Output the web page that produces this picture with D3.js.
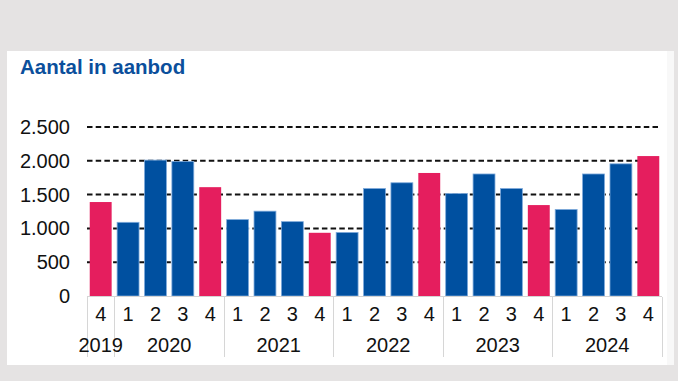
<!DOCTYPE html>
<html>
<head>
<meta charset="utf-8">
<script src="https://cdn.jsdelivr.net/npm/d3@7"></script>
<style>
  html, body { margin: 0; padding: 0; background: #e5e3e3; }
  svg { display: block; font-family: "Liberation Sans", Arial, Helvetica, sans-serif; }
</style>
</head>
<body>
<svg id="chart" width="678" height="381"></svg>
<script>
// ---- Data ----
const years    = ["2019", "2020", "2020", "2020", "2020", "2021", "2021", "2021", "2021",
                  "2022", "2022", "2022", "2022", "2023", "2023", "2023", "2023",
                  "2024", "2024", "2024", "2024"];
const quarters = ["4", "1", "2", "3", "4", "1", "2", "3", "4",
                  "1", "2", "3", "4", "1", "2", "3", "4",
                  "1", "2", "3", "4"];
const values   = [1390, 1090, 2010, 1990, 1610, 1130, 1255, 1100, 935,
                  940, 1590, 1675, 1820, 1515, 1805, 1590, 1345,
                  1280, 1805, 1955, 2070];
const yTicks   = [0, 500, 1000, 1500, 2000, 2500];
const yearLabels = ["2019", "2020", "2021", "2022", "2023", "2024"];
const title = "Aantal in aanbod";

// ---- Layout ----
const svg = d3.select("#chart");
const blue = "#0050a0", pink = "#e51e5e";
const fmt = d3.format(",");
const nl = v => fmt(v).replace(/,/g, ".");

// panel
svg.append("rect").attr("x", 7).attr("y", 51).attr("width", 667).attr("height", 314).attr("fill", "#f8f8f8");
svg.append("rect").attr("x", 7).attr("y", 51).attr("width", 660).attr("height", 314).attr("fill", "#ffffff");

svg.append("text").attr("x", 20).attr("y", 74)
  .attr("fill", "#0b4f9c").attr("font-weight", "bold").attr("font-size", 20.5)
  .text(title);

const idx = values.map((d, i) => i);
const x = d3.scaleBand().domain(idx).range([87, 662]).paddingInner(0.2).paddingOuter(0.1);
const y = d3.scaleLinear().domain([0, 2500]).range([296, 127]);

// gridlines
const grid = svg.append("g");
grid.selectAll("line").data(yTicks.filter(t => t > 0)).join("line")
  .attr("x1", 87).attr("x2", 661)
  .attr("y1", d => y(d)).attr("y2", d => y(d))
  .attr("stroke", "#111").attr("stroke-width", 2).attr("stroke-dasharray", "5.5,3.2");

// y axis labels
const yAxis = d3.axisLeft(y).tickValues(yTicks).tickFormat(nl).tickSize(0).tickPadding(0);
const ya = svg.append("g").attr("transform", "translate(70,0)").call(yAxis);
ya.select(".domain").remove();
ya.selectAll("text").attr("font-size", 20).attr("fill", "#111")
  .attr("font-family", "'Liberation Sans', Arial, sans-serif");

// bars
svg.append("g").selectAll("rect").data(idx).join("rect")
  .attr("x", i => x(i)).attr("width", x.bandwidth())
  .attr("y", i => y(values[i])).attr("height", i => y(0) - y(values[i]))
  .attr("fill", i => quarters[i] === "4" ? pink : blue)
  .attr("stroke", i => quarters[i] === "4" ? "none" : "#7eaadb")
  .attr("stroke-width", 0.8);

// baseline
svg.append("line").attr("x1", 87).attr("x2", 662).attr("y1", 296.5).attr("y2", 296.5)
  .attr("stroke", "#d4d4d4").attr("stroke-width", 1);

// quarter labels
const xAxis = d3.axisBottom(x).tickFormat(i => quarters[i]).tickSize(0).tickPadding(0);
const xa = svg.append("g").call(xAxis);
xa.select(".domain").remove();
xa.selectAll("text").attr("y", 321).attr("dy", null).attr("font-size", 20).attr("fill", "#111")
  .attr("font-family", "'Liberation Sans', Arial, sans-serif");

// year groups
const groups = yearLabels.map(yr => {
  const ids = idx.filter(i => years[i] === yr);
  const first = ids[0], last = ids[ids.length - 1];
  const gap = (x.step() - x.bandwidth()) / 2;
  return { yr, x0: x(first) - gap, x1: x(last) + x.bandwidth() + gap };
});
const sepXs = [groups[0].x0].concat(groups.map(g => g.x1));
svg.append("g").selectAll("line").data(sepXs).join("line")
  .attr("x1", d => Math.round(d) + 0.5).attr("x2", d => Math.round(d) + 0.5)
  .attr("y1", 297).attr("y2", 357)
  .attr("stroke", "#d6d6d6").attr("stroke-width", 1);

svg.append("g").selectAll("text").data(groups).join("text")
  .attr("x", g => (g.x0 + g.x1) / 2).attr("y", 352)
  .attr("text-anchor", "middle").attr("font-size", 20).attr("fill", "#111")
  .text(g => g.yr);
</script>
</body>
</html>
